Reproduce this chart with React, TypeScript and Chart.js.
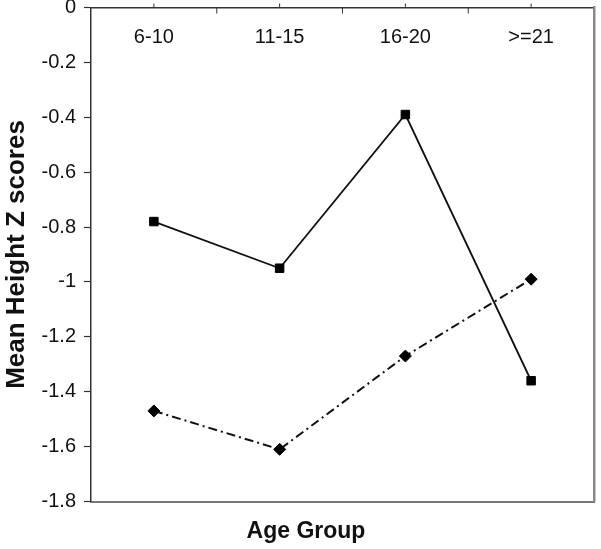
import React, { useEffect, useRef } from "react";
import { Chart, registerables } from "chart.js";

Chart.register(...registerables);

const ageGroups = ["6-10", "11-15", "16-20", ">=21"];
const seriesSquares = [-0.78, -0.95, -0.39, -1.36];
const seriesDiamonds = [-1.47, -1.61, -1.27, -0.99];
const yMin = -1.8;
const yMax = 0;
const yStep = 0.2;

const FONT = "'Liberation Sans', Arial, Helvetica, sans-serif";

const topTicksPlugin = {
  id: "topTicks",
  afterDraw(chart: any) {
    const xs = chart.scales.x;
    const ctx = chart.ctx;
    const top = chart.chartArea.top;
    ctx.save();
    ctx.strokeStyle = "#333";
    ctx.lineWidth = 1;
    for (let i = 0; i < ageGroups.length; i++) {
      const px = xs.getPixelForValue(i);
      ctx.beginPath();
      ctx.moveTo(px, top);
      ctx.lineTo(px, top - 4);
      ctx.stroke();
      if (i < ageGroups.length - 1) {
        const nx = xs.getPixelForValue(i + 1);
        const b = (px + nx) / 2;
        ctx.beginPath();
        ctx.moveTo(b, top);
        ctx.lineTo(b, top + 6);
        ctx.stroke();
      }
    }
    ctx.restore();
  },
};

export default function App() {
  const canvasRef = useRef<HTMLCanvasElement | null>(null);

  useEffect(() => {
    if (!canvasRef.current) return;
    const chart = new Chart(canvasRef.current, {
      type: "line",
      data: {
        labels: ageGroups,
        datasets: [
          {
            label: "squares",
            data: seriesSquares,
            borderColor: "#111",
            backgroundColor: "#000",
            borderWidth: 1.8,
            pointStyle: "rect",
            pointRadius: 6,
            pointBorderWidth: 1,
            pointBackgroundColor: "#000",
            pointBorderColor: "#000",
            tension: 0,
          },
          {
            label: "diamonds",
            data: seriesDiamonds,
            borderColor: "#111",
            backgroundColor: "#000",
            borderWidth: 2,
            borderDash: [9, 4, 2, 4],
            pointStyle: "rectRot",
            pointRadius: 6,
            pointBorderWidth: 1,
            pointBackgroundColor: "#000",
            pointBorderColor: "#000",
            tension: 0,
          },
        ],
      },
      options: {
        responsive: false,
        animation: false,
        layout: { padding: { left: 12, right: 1, top: 0, bottom: 0 } },
        plugins: {
          legend: { display: false },
          tooltip: { enabled: false },
          title: {
            display: true,
            position: "bottom",
            text: "Age Group",
            color: "#111",
            font: { family: FONT, size: 23, weight: "bold", lineHeight: 1.2 },
            padding: { top: 4, bottom: 4 },
          },
        },
        scales: {
          x: {
            type: "category",
            position: "top",
            offset: true,
            grid: { display: true, drawOnChartArea: false, drawTicks: false, color: "#333" },
            border: { display: true, color: "#333", width: 1.5 },
            ticks: {
              color: "#111",
              font: { family: FONT, size: 20, lineHeight: 1.2 },
              padding: 18,
              mirror: true,
              maxRotation: 0,
              autoSkip: false,
            },
            afterFit(scale: any) {
              scale.height = 7.5;
              scale.paddingLeft = 0;
              scale.paddingRight = 0;
            },
          },
          x2: {
            type: "linear",
            position: "bottom",
            display: true,
            grid: { display: true, drawOnChartArea: false, drawTicks: false },
            border: { display: true, color: "#777", width: 2 },
            ticks: { display: false },
            afterFit(scale: any) {
              scale.height = 11.9;
              scale.paddingLeft = 0;
              scale.paddingRight = 0;
            },
          },
          y: {
            type: "linear",
            position: "left",
            min: yMin,
            max: yMax,
            ticks: {
              stepSize: yStep,
              color: "#111",
              font: { family: FONT, size: 20 },
              padding: 8,
              callback: (v: any) => String(Math.round(Number(v) * 10) / 10),
            },
            grid: {
              display: true,
              drawOnChartArea: false,
              drawTicks: true,
              tickLength: 7,
              tickWidth: 1.2,
              tickColor: "#333",
              color: "#333",
            },
            border: { display: true, color: "#333", width: 1.5 },
            title: {
              display: true,
              text: "Mean Height Z scores",
              color: "#111",
              font: { family: FONT, size: 26, weight: "bold", lineHeight: 1 },
              padding: { top: -8, bottom: 0 },
            },
            afterFit(scale: any) {
              scale.width = 79;
              scale.paddingTop = 0;
              scale.paddingBottom = 0;
            },
          },
          y2: {
            type: "linear",
            position: "right",
            display: true,
            grid: { display: true, drawOnChartArea: false, drawTicks: false },
            border: { display: true, color: "#888", width: 2.5 },
            ticks: { display: false },
            afterFit(scale: any) {
              scale.width = 2;
              scale.paddingTop = 0;
              scale.paddingBottom = 0;
            },
          },
        },
      } as any,
      plugins: [topTicksPlugin],
    });
    return () => chart.destroy();
  }, []);

  return (
    <div style={{ position: "absolute", left: 0, top: 0, width: 601, height: 549, background: "#fff" }}>
      <canvas ref={canvasRef} width={601} height={549} style={{ display: "block" }} />
    </div>
  );
}
